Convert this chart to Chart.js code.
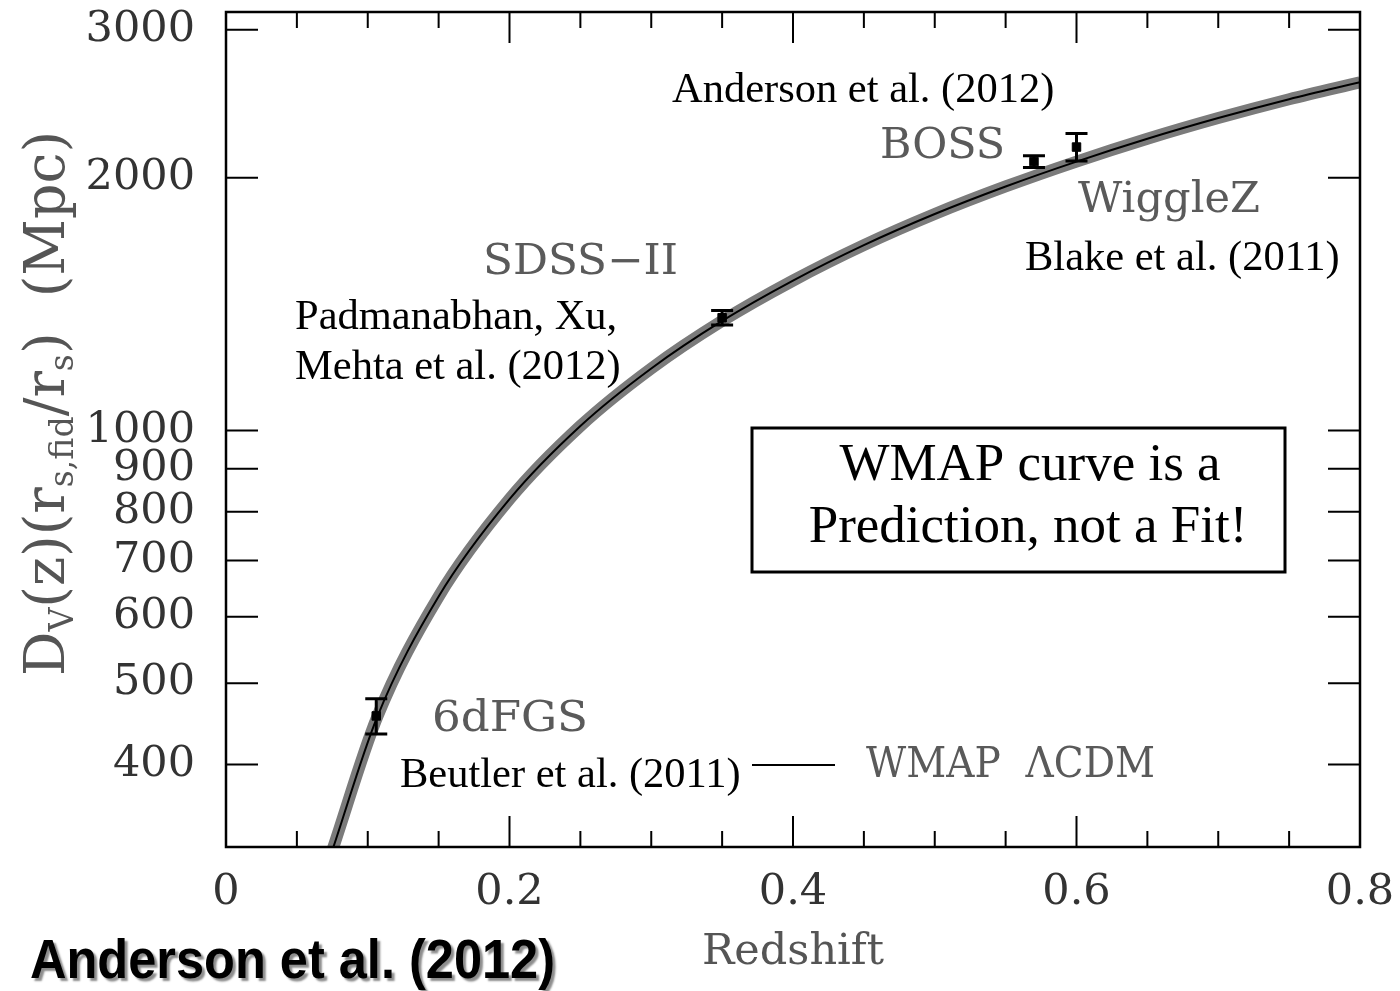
<!DOCTYPE html>
<html>
<head>
<meta charset="utf-8">
<script src="https://cdn.jsdelivr.net/npm/chart.js@4.4.1/dist/chart.umd.min.js"></script>
<style>
html, body { margin: 0; padding: 0; background: #fff; }
#wrap { position: relative; width: 1400px; height: 991px; }
</style>
</head>
<body>
<div id="wrap"><canvas id="c" width="1400" height="991"></canvas></div>
<script>
// WMAP LCDM curve
const curveZ = [0.0755, 0.1065, 0.15, 0.2, 0.25, 0.3, 0.35, 0.4, 0.45, 0.5, 0.55, 0.6, 0.65, 0.7, 0.75, 0.8];
const curveD = [318, 455, 634, 828, 1012, 1185, 1350, 1508, 1662, 1810, 1952, 2090, 2225, 2355, 2480, 2598];

// BAO measurements
const surveyNames = ['6dFGS', 'SDSS-II', 'BOSS', 'WiggleZ'];
const surveyZ = [0.106, 0.35, 0.57, 0.60];
const surveyD = [457, 1362, 2090, 2175];
const surveyErr = [22, 27, 34, 82];

// axes
const yTicks = [400, 500, 600, 700, 800, 900, 1000, 2000, 3000];
const xMin = 0, xMax = 0.8, xStep = 0.05;
const yMin = 319, yMax = 3150;

const tickFont = { family: 'DejaVu Serif', size: 43 };

// texts drawn scaled to fit the original widths
function fitText(ctx, text, x, y, w) {
    const m = ctx.measureText(text).width;
    ctx.save();
    ctx.translate(x, y);
    ctx.scale(w / m, 1);
    ctx.fillText(text, 0, 0);
    ctx.restore();
}

const decor = {
    id: 'decor',
    afterDatasetsDraw(chart) {
        const { ctx, chartArea: a, scales: { x, y } } = chart;
        ctx.save();
        ctx.strokeStyle = '#000';
        ctx.lineCap = 'butt';

        // error bars
        ctx.lineWidth = 3;
        surveyZ.forEach((z, i) => {
            const px = x.getPixelForValue(z);
            const top = y.getPixelForValue(surveyD[i] + surveyErr[i]);
            const bot = y.getPixelForValue(surveyD[i] - surveyErr[i]);
            ctx.beginPath();
            ctx.moveTo(px, top); ctx.lineTo(px, bot);
            ctx.moveTo(px - 11, top); ctx.lineTo(px + 11, top);
            ctx.moveTo(px - 11, bot); ctx.lineTo(px + 11, bot);
            ctx.stroke();
        });

        // frame
        ctx.lineWidth = 2.5;
        ctx.strokeRect(a.left, a.top, a.right - a.left, a.bottom - a.top);

        // inward tick marks
        ctx.lineWidth = 2;
        ctx.beginPath();
        x.ticks.forEach(t => {
            const px = x.getPixelForValue(t.value);
            const len = Math.round(t.value * 100) % 20 === 0 ? 31 : 16;
            ctx.moveTo(px, a.bottom); ctx.lineTo(px, a.bottom - len);
            ctx.moveTo(px, a.top); ctx.lineTo(px, a.top + len);
        });
        y.ticks.forEach(t => {
            const py = y.getPixelForValue(t.value);
            ctx.moveTo(a.left, py); ctx.lineTo(a.left + 32, py);
            ctx.moveTo(a.right, py); ctx.lineTo(a.right - 32, py);
        });
        ctx.stroke();
        ctx.restore();
    },
    afterDraw(chart) {
        const ctx = chart.ctx;
        ctx.save();
        ctx.textBaseline = 'middle';
        ctx.textAlign = 'left';

        // survey labels (plot font, grey)
        ctx.fillStyle = '#5a5a5a';
        ctx.font = '42px "DejaVu Serif"';
        fitText(ctx, 'BOSS', 880, 147, 125);
        fitText(ctx, 'WiggleZ', 1078, 201, 182);
        fitText(ctx, 'SDSS\u2212II', 483, 263, 195);
        fitText(ctx, '6dFGS', 432, 720, 156);
        fitText(ctx, 'WMAP  \u039BCDM', 866, 766, 289);

        // legend line
        ctx.strokeStyle = '#000';
        ctx.lineWidth = 2;
        ctx.beginPath();
        ctx.moveTo(752, 765); ctx.lineTo(835, 765);
        ctx.stroke();

        // references (Times)
        ctx.fillStyle = '#000';
        ctx.font = '42.5px "Liberation Serif"';
        ctx.fillText('Anderson et al. (2012)', 672, 91);
        ctx.fillText('Blake et al. (2011)', 1025, 259);
        ctx.fillText('Padmanabhan, Xu,', 295, 318);
        ctx.fillText('Mehta et al. (2012)', 295, 368);
        ctx.fillText('Beutler et al. (2011)', 400, 776);

        // boxed note
        ctx.lineWidth = 3;
        ctx.strokeRect(752, 428, 533, 144);
        ctx.font = '53px "Liberation Serif"';
        ctx.textAlign = 'center';
        ctx.fillText('WMAP curve is a', 1030, 466);
        ctx.fillText('Prediction, not a Fit!', 1028, 528);

        // source caption with shadow
        ctx.textAlign = 'left';
        ctx.font = 'bold 56px "Liberation Sans"';
        ctx.shadowColor = 'rgba(0,0,0,0.45)';
        ctx.shadowOffsetX = 3;
        ctx.shadowOffsetY = 3;
        ctx.shadowBlur = 2;
        fitText(ctx, 'Anderson et al. (2012)', 30, 963, 525);
        ctx.shadowColor = 'transparent';

        // y axis title, rotated, with subscripts
        const parts = [
            { t: 'D', s: 1 }, { t: 'V', s: 0.6, dy: 9 },
            { t: '(z)(r', s: 1 }, { t: 's,fid', s: 0.6, dy: 9 },
            { t: '/r', s: 1 }, { t: 's', s: 0.6, dy: 9 },
            { t: ')  (Mpc)', s: 1 }
        ];
        const fs = 56;
        let total = 0;
        parts.forEach(p => {
            ctx.font = (fs * p.s) + 'px "DejaVu Serif"';
            p.w = ctx.measureText(p.t).width;
            total += p.w;
        });
        const len = 545;
        ctx.translate(64, 676);
        ctx.rotate(-Math.PI / 2);
        ctx.scale(len / total, 1);
        ctx.fillStyle = '#555';
        ctx.textBaseline = 'alphabetic';
        let cx = 0;
        parts.forEach(p => {
            ctx.font = (fs * p.s) + 'px "DejaVu Serif"';
            ctx.fillText(p.t, cx, p.dy || 0);
            cx += p.w;
        });
        ctx.restore();
    }
};

const curvePts = curveZ.map((z, i) => ({ x: z, y: curveD[i] }));
const surveyPts = surveyZ.map((z, i) => ({ x: z, y: surveyD[i] }));

new Chart(document.getElementById('c'), {
    type: 'line',
    data: {
        datasets: [{
            label: 'band',
            data: curvePts,
            borderColor: '#7b7b7b',
            borderWidth: 12,
            pointRadius: 0,
            cubicInterpolationMode: 'monotone',
            fill: false,
            order: 3
        }, {
            label: 'WMAP LCDM',
            data: curvePts,
            borderColor: '#000',
            borderWidth: 2,
            pointRadius: 0,
            cubicInterpolationMode: 'monotone',
            fill: false,
            order: 2
        }, {
            type: 'scatter',
            label: 'BAO',
            data: surveyPts,
            pointStyle: 'rect',
            pointRadius: 6,
            backgroundColor: '#000',
            borderColor: '#000',
            order: 1
        }]
    },
    options: {
        responsive: false,
        animation: false,
        layout: { padding: { top: 12, right: 40, left: 0, bottom: 0 } },
        plugins: { legend: { display: false }, tooltip: { enabled: false } },
        scales: {
            x: {
                type: 'linear',
                min: xMin,
                max: xMax,
                ticks: {
                    stepSize: xStep,
                    autoSkip: false,
                    maxRotation: 0,
                    padding: 20,
                    font: tickFont,
                    color: '#333',
                    callback: v => {
                        const r = Math.round(v * 100);
                        if (r % 20 !== 0) return '';
                        return r === 0 ? '0' : (r / 100).toString();
                    }
                },
                grid: { display: false, drawTicks: false },
                border: { display: false },
                title: {
                    display: true,
                    text: 'Redshift',
                    font: { family: 'DejaVu Serif', size: 43 },
                    color: '#555',
                    padding: { top: 0, bottom: 12 }
                },
                afterFit: s => {
                    s.height = 144;
                    s.paddingLeft = 0;
                    s.paddingRight = 0;
                }
            },
            y: {
                type: 'logarithmic',
                min: yMin,
                max: yMax,
                afterBuildTicks: s => { s.ticks = yTicks.map(v => ({ value: v })); },
                ticks: {
                    padding: 31,
                    font: tickFont,
                    color: '#333',
                    callback: v => String(v)
                },
                grid: { display: false, drawTicks: false },
                border: { display: false },
                afterFit: s => {
                    s.width = 226;
                    s.paddingTop = 0;
                    s.paddingBottom = 0;
                }
            }
        }
    },
    plugins: [decor]
});
</script>
</body>
</html>
